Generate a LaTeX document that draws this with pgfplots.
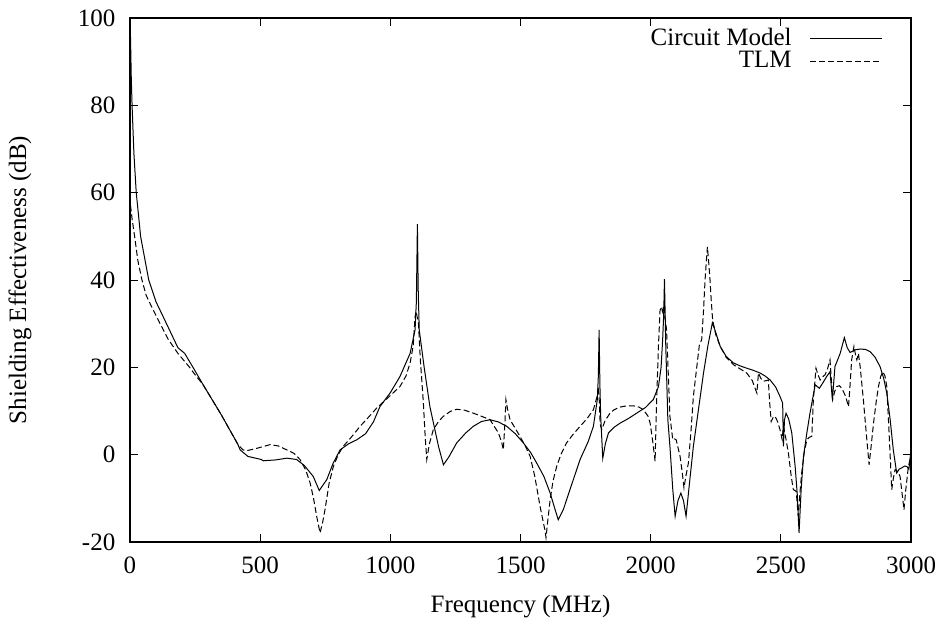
\documentclass[border=0pt]{standalone}
\usepackage{pgfplots}
\pgfplotsset{compat=1.18}
\usepackage{fontspec}
\setmainfont{Liberation Serif}
\begin{document}
\fontsize{12.5}{15}\selectfont
\begin{tikzpicture}
\path[use as bounding box] (-65pt,-43pt) rectangle (406.5pt,271pt);
\begin{axis}[
  scale only axis,
  width=390.5pt, height=262pt,
  xmin=0, xmax=3000, ymin=-20, ymax=100,
  xtick={0,500,...,3000}, ytick={-20,0,...,100},
  tick align=inside,
  major tick length=4pt,
  tick style={black, line width=0.5pt},
  axis line style={line width=0.6pt},
  /pgf/number format/assume math mode=true,
  /pgf/number format/1000 sep={},
  tick label style={font=\fontsize{12.5}{15}\selectfont},
  xlabel={Frequency (MHz)},
  ylabel={Shielding Effectiveness (dB)},
  every axis x label/.style={at={([yshift=-32.5pt]axis description cs:0.5,0)}, anchor=center, font=\fontsize{12.5}{15}\selectfont},
  every axis y label/.style={at={([xshift=-55pt]axis description cs:0,0.5)}, anchor=center, rotate=90, font=\fontsize{12.5}{15}\selectfont},
  xticklabel style={yshift=-3pt},
  yticklabel style={xshift=-3pt},
  legend plot pos=right,
  legend cell align=right,
  legend image code/.code={\draw[#1] (0pt,0pt) -- (36pt,0pt);},
  legend style={draw=none, fill=none, at={(rel axis cs:1,1)}, anchor=north east,
    xshift=-11pt, yshift=-1pt, row sep=-3pt, column sep=7pt,
    font=\fontsize{12.5}{15}\selectfont},
]
\addplot[black, line width=0.5pt] coordinates {
(2,95.6)(5,86)(8,80)(15,69)(24,60)(41,49.9)(72,40)(100,35)(133,30.9)(184,24.5)(210,23.2)(242,20)(281,16)(351,9.1)(415,2.3)(423,1.1)(453,-0.4)(504,-1.1)(512,-1.4)(560,-1.2)(602,-0.8)(640,-1.1)(670,-2.5)(704,-5)(727,-8.2)(756,-5.7)(780,-2)(807,1.1)(840,2.5)(871,3.4)(905,4.8)(935,7.5)(960,11)(1000,14.2)(1037,17.9)(1076,23.2)(1095,28.6)(1100,35)(1104,52.8)(1107,38)(1111,28.6)(1130,20)(1152,11)(1185,1.9)(1204,-2.3)(1225,-0.5)(1255,2.7)(1290,5)(1319,6.5)(1350,7.6)(1383,8)(1415,7.5)(1447,6.5)(1480,4.8)(1511,2.7)(1540,0.4)(1562,-1.9)(1590,-5)(1614,-8.8)(1630,-12)(1645,-14.9)(1665,-12.5)(1690,-8)(1729,-1.1)(1760,3)(1780,6.5)(1795,12.6)(1799,18)(1802,28.6)(1805,16)(1808,8.8)(1816,-0.8)(1826,2.5)(1838,5)(1860,6.3)(1882,7.2)(1915,8.3)(1946,9.5)(1980,10.8)(2010,12.6)(2030,15.6)(2040,20)(2046,26.3)(2050,32)(2053,40.2)(2058,25)(2066,8)(2074,1.9)(2085,-8)(2094,-14.1)(2105,-10.5)(2116,-8.8)(2126,-10.5)(2136,-14.1)(2150,-6)(2164,1.9)(2184,10.5)(2203,18.7)(2220,25)(2237,30.2)(2250,28)(2267,24.8)(2290,22.5)(2318,21)(2345,20.3)(2369,19.8)(2395,19.3)(2420,18.7)(2440,18)(2459,17.1)(2480,15.5)(2497,13.3)(2507,11.8)(2510,1.9)(2514,8)(2520,9.5)(2530,8.2)(2542,5)(2555,-2.7)(2563,-9)(2570,-17.9)(2578,-8)(2587,-0.4)(2600,5)(2612,9.5)(2632,16)(2648,15.2)(2662,16.5)(2676,17.9)(2689,19)(2698,12.6)(2708,20.2)(2728,23.2)(2744,26.8)(2755,24.5)(2766,23.4)(2785,24)(2805,24.2)(2825,24.1)(2843,23.6)(2862,22.3)(2881,20.2)(2895,17.5)(2907,14.1)(2920,8)(2932,1.1)(2945,-4.2)(2955,-3.3)(2965,-3)(2975,-2.6)(2984,-2.7)(2992,-3.3)(3000,1)
};
\addlegendentry{Circuit Model}
\addplot[black, line width=0.5pt, dash pattern=on 3pt off 1.5pt] coordinates {
(2,57.1)(8,54)(18,49.9)(30,44.5)(46,40)(62,36.5)(82,34)(108,30.9)(146,26.5)(184,23.2)(229,20)(250,18.3)(281,16)(351,9.1)(415,2.3)(434,1.1)(448,0.9)(490,1.5)(538,2.3)(570,2)(602,1.1)(630,0.3)(653,-1.1)(675,-3.5)(692,-6.5)(705,-10)(717,-14.1)(730,-17.9)(740,-15.5)(749,-12.6)(765,-6.5)(781,-2.7)(800,0)(819,1.9)(850,4)(884,6.5)(915,8.5)(948,10.7)(990,13)(1037,15.6)(1060,18)(1076,21)(1088,25)(1095,31.6)(1099,32.8)(1108,30.1)(1115,22)(1127,11.8)(1134,4)(1140,-1.1)(1150,2.5)(1165,5.7)(1185,7.6)(1204,8.8)(1230,9.9)(1255,10.4)(1285,10.2)(1319,9.5)(1350,8.8)(1383,8)(1415,5)(1427,3)(1434,1.1)(1440,7)(1444,12.6)(1450,10.5)(1460,8)(1480,6)(1498,4.2)(1520,1.8)(1537,-0.4)(1555,-5)(1575,-11.8)(1588,-15.6)(1593,-17)(1598,-19)(1605,-15)(1614,-10.3)(1625,-6)(1639,-2.7)(1655,0)(1677,2.7)(1700,4.5)(1729,6.5)(1755,8.2)(1780,10.3)(1795,13.5)(1799,15.6)(1803,12)(1806,7)(1812,5.7)(1825,7.8)(1844,9.5)(1860,10.3)(1882,10.9)(1910,11.2)(1934,11.2)(1955,10.9)(1972,10.3)(1990,8.8)(1998,7.2)(2008,3)(2017,-1.5)(2023,12.6)(2030,25)(2036,33.1)(2042,33.9)(2045,32.8)(2049,33.9)(2055,31.5)(2061,28.6)(2068,18)(2074,8.8)(2085,3.4)(2092,3.6)(2098,3.4)(2113,-0.4)(2120,-3.5)(2128,-7.6)(2135,-5)(2145,-1.9)(2155,5.5)(2164,13.3)(2176,19.5)(2187,25.1)(2196,26.3)(2203,33)(2209,40)(2214,44.5)(2218,47.6)(2223,44)(2228,40)(2233,35)(2238,30.9)(2250,27.5)(2267,24.8)(2290,22.3)(2318,20.6)(2345,19.6)(2369,18.7)(2390,17)(2408,14.1)(2414,18.7)(2423,17.5)(2433,16.8)(2452,17.1)(2457,12)(2463,7.6)(2470,8.5)(2478,8.8)(2488,7.5)(2497,5.7)(2505,3.5)(2510,6.5)(2520,3.5)(2529,0.4)(2540,-5)(2548,-8)(2559,-8.4)(2567,-14.1)(2573,-9)(2580,-4.2)(2590,0.5)(2600,3.4)(2610,4)(2619,4.2)(2625,12.6)(2635,19.8)(2643,18.3)(2651,17.1)(2660,17.8)(2670,18.3)(2680,19.8)(2689,21.7)(2699,12.6)(2707,14.5)(2715,15.6)(2725,15.8)(2734,15.2)(2748,13.5)(2760,11)(2766,16)(2772,21.7)(2781,24.8)(2788,22.5)(2792,21.7)(2798,23.2)(2805,20)(2817,12.6)(2828,5)(2839,-2.3)(2847,2)(2856,7.2)(2866,12)(2875,15.6)(2884,18)(2892,19)(2900,18)(2907,15.6)(2915,6)(2926,-8)(2932,-5.5)(2939,-3.4)(2948,-3.8)(2958,-5)(2966,-9)(2973,-12.6)(2980,-8)(2990,-2.7)(2999,-0.4)
};
\addlegendentry{TLM}
\end{axis}
\end{tikzpicture}
\end{document}
